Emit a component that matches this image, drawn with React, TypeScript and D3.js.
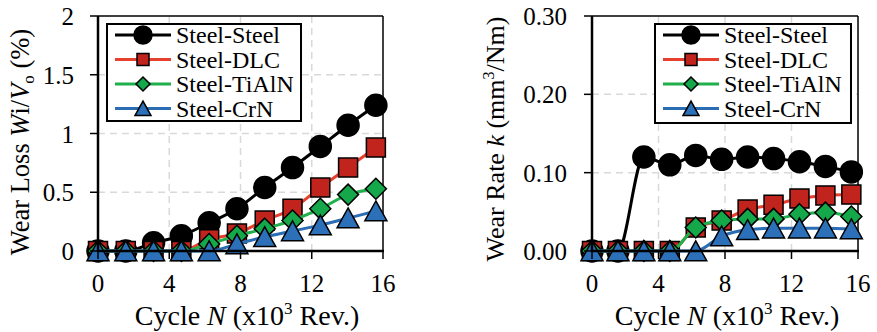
import { useEffect, useRef } from 'react';
import * as d3 from 'd3';

// cycle positions (x10^3 rev.)
const cycleN = [0, 1.56, 3.12, 4.68, 6.24, 7.8, 9.36, 10.92, 12.48, 14.04, 15.6];
const seriesNames = ['Steel-Steel', 'Steel-DLC', 'Steel-TiAlN', 'Steel-CrN'];

// wear loss Wi/Vo (%)
const lossSteel = [0, 0, 0.07, 0.13, 0.24, 0.36, 0.54, 0.71, 0.89, 1.07, 1.24];
const lossDLC = [0, 0, 0, 0, 0.1, 0.15, 0.26, 0.36, 0.54, 0.71, 0.88];
const lossTiAlN = [0, 0, 0, 0, 0.06, 0.13, 0.19, 0.26, 0.36, 0.48, 0.53];
const lossCrN = [0, 0, 0, 0, 0, 0.06, 0.12, 0.17, 0.22, 0.28, 0.34];

// wear rate k (mm3/Nm)
const rateSteel = [0, 0, 0.12, 0.11, 0.122, 0.117, 0.12, 0.118, 0.114, 0.108, 0.101];
const rateDLC = [0, 0, 0, 0, 0.03, 0.039, 0.053, 0.059, 0.067, 0.071, 0.072];
const rateTiAlN = [0, 0, 0, 0, 0.03, 0.039, 0.041, 0.041, 0.047, 0.049, 0.044];
const rateCrN = [0, 0, 0, 0, 0, 0.019, 0.027, 0.029, 0.029, 0.029, 0.028];

const xTicks = [0, 4, 8, 12, 16];
const lossTicks = [0, 0.5, 1, 1.5, 2];
const rateTicks = [0, 0.1, 0.2, 0.3];

const lineColors = ['#000000', '#e8402f', '#1fb04c', '#2a6db5'];
const markerFills = ['#000000', '#c0241c', '#14a84a', '#2c70b9'];
const shapes = ['circle', 'square', 'diamond', 'triangle'];
const dataSize = [11, 9.5, 10.5, 11];
const legendSize = [9, 6, 7, 8];

const FONT = '"Liberation Serif", "Times New Roman", serif';

const markerPath = (shape: string, s: number) => {
  if (shape === 'circle') return `M${-s},0a${s},${s} 0 1,0 ${2 * s},0a${s},${s} 0 1,0 ${-2 * s},0Z`;
  if (shape === 'square') return `M${-s},${-s}h${2 * s}v${2 * s}h${-2 * s}Z`;
  if (shape === 'diamond') return `M0,${-s}L${s},0L0,${s}L${-s},0Z`;
  return `M0,${-s * 0.92}L${s},${s * 0.88}L${-s},${s * 0.88}Z`;
};

const drawPanel = (svg: any, cfg: any) => {
  const { left, right, top, bottom } = cfg;
  const x = d3.scaleLinear().domain([0, 16]).range([left, right]);
  const y = d3.scaleLinear().domain(cfg.yDomain).range([bottom, top]);
  const g = svg.append('g');

  // gridlines
  xTicks.slice(1, -1).forEach(t => {
    g.append('line')
      .attr('x1', x(t)).attr('x2', x(t)).attr('y1', top).attr('y2', bottom)
      .attr('stroke', '#d9d9d9').attr('stroke-width', 1.5).attr('stroke-dasharray', '7,5');
  });
  cfg.yTicks.slice(1, -1).forEach((t: number) => {
    g.append('line')
      .attr('x1', left).attr('x2', right).attr('y1', y(t)).attr('y2', y(t))
      .attr('stroke', '#d9d9d9').attr('stroke-width', 1.5).attr('stroke-dasharray', '7,5');
  });

  // frame (top / right thin)
  g.append('line').attr('x1', left).attr('x2', right).attr('y1', top).attr('y2', top)
    .attr('stroke', '#000').attr('stroke-width', 1.5);
  g.append('line').attr('x1', right).attr('x2', right).attr('y1', top).attr('y2', bottom)
    .attr('stroke', '#000').attr('stroke-width', 1.5);

  // series
  const line = d3.line<number>()
    .x((_d, i) => x(cycleN[i]))
    .y(d => y(d))
    .curve(d3.curveMonotoneX);

  cfg.series.forEach((vals: number[], si: number) => {
    g.append('path')
      .attr('d', line(vals))
      .attr('fill', 'none')
      .attr('stroke', lineColors[si])
      .attr('stroke-width', 3);
    vals.forEach((v, i) => {
      g.append('path')
        .attr('transform', `translate(${x(cycleN[i])},${y(v)})`)
        .attr('d', markerPath(shapes[si], dataSize[si]))
        .attr('fill', markerFills[si])
        .attr('stroke', '#000')
        .attr('stroke-width', 1.5);
    });
  });

  // axes
  g.append('line').attr('x1', left).attr('x2', left).attr('y1', top).attr('y2', bottom + 1)
    .attr('stroke', '#000').attr('stroke-width', 2.5);
  g.append('line').attr('x1', left - 1).attr('x2', right + 1).attr('y1', bottom).attr('y2', bottom)
    .attr('stroke', '#000').attr('stroke-width', 2.5);

  cfg.yTicks.forEach((t: number) => {
    g.append('line').attr('x1', left - 8).attr('x2', left).attr('y1', y(t)).attr('y2', y(t))
      .attr('stroke', '#000').attr('stroke-width', 1.5);
    g.append('text')
      .attr('x', cfg.yLabelX).attr('y', y(t) + 9)
      .attr('text-anchor', 'end')
      .style('font-family', FONT).style('font-size', '25px').style('fill', '#000')
      .text(cfg.yFormat(t));
  });
  xTicks.forEach(t => {
    g.append('line').attr('x1', x(t)).attr('x2', x(t)).attr('y1', bottom).attr('y2', bottom + 8)
      .attr('stroke', '#000').attr('stroke-width', 1.5);
    g.append('text')
      .attr('x', x(t)).attr('y', 292)
      .attr('text-anchor', 'middle')
      .style('font-family', FONT).style('font-size', '25px').style('fill', '#000')
      .text(t);
  });

  // x title
  const xt = g.append('text')
    .attr('x', cfg.xTitleX).attr('y', 325)
    .attr('text-anchor', 'middle')
    .style('font-family', FONT).style('font-size', '28px').style('fill', '#000');
  xt.append('tspan').text('Cycle ');
  xt.append('tspan').style('font-style', 'italic').text('N');
  xt.append('tspan').text(' (x10');
  xt.append('tspan').attr('dy', -11).style('font-size', '17px').text('3');
  xt.append('tspan').attr('dy', 11).text(' Rev.)');

  // y title
  const yt = g.append('text')
    .attr('transform', `translate(${cfg.yTitleX},${cfg.yTitleY}) rotate(-90)`)
    .attr('text-anchor', 'middle')
    .style('font-family', FONT).style('font-size', cfg.yTitleSize).style('fill', '#000');
  cfg.yTitle(yt);

  // legend
  const lg = g.append('g');
  lg.append('rect')
    .attr('x', cfg.legend.x).attr('y', cfg.legend.y)
    .attr('width', cfg.legend.w).attr('height', cfg.legend.h)
    .attr('fill', '#fff').attr('stroke', '#000').attr('stroke-width', 2);
  seriesNames.forEach((name, si) => {
    const cy = cfg.legend.y + 11 + si * 24.5;
    const lx = cfg.legend.x + 8;
    lg.append('line')
      .attr('x1', lx).attr('x2', lx + 56).attr('y1', cy).attr('y2', cy)
      .attr('stroke', lineColors[si]).attr('stroke-width', 3);
    lg.append('path')
      .attr('transform', `translate(${lx + 28},${cy})`)
      .attr('d', markerPath(shapes[si], legendSize[si]))
      .attr('fill', markerFills[si]).attr('stroke', '#000').attr('stroke-width', 1.5);
    lg.append('text')
      .attr('x', lx + 61).attr('y', cy + 8)
      .style('font-family', FONT).style('font-size', '24px').style('fill', '#000')
      .text(name);
  });
};

const App = () => {
  const ref = useRef<SVGSVGElement>(null);

  useEffect(() => {
    if (!ref.current) return;
    const svg = d3.select(ref.current);
    svg.selectAll('*').remove();

    drawPanel(svg, {
      left: 98, right: 383, top: 16, bottom: 251,
      yDomain: [0, 2], yTicks: lossTicks, yFormat: (d: number) => String(d),
      yLabelX: 74,
      series: [lossSteel, lossDLC, lossTiAlN, lossCrN],
      xTitleX: 247,
      yTitleX: 29, yTitleY: 142, yTitleSize: '26.5px',
      yTitle: (t: any) => {
        t.append('tspan').text('Wear Loss ');
        t.append('tspan').style('font-style', 'italic').text('W');
        t.append('tspan').text('i/');
        t.append('tspan').style('font-style', 'italic').text('V');
        t.append('tspan').attr('dy', 5).style('font-size', '17px').text('o');
        t.append('tspan').attr('dy', -5).text(' (%)');
      },
      legend: { x: 107, y: 24, w: 194, h: 97 },
    });

    drawPanel(svg, {
      left: 592, right: 858, top: 16, bottom: 251,
      yDomain: [0, 0.3], yTicks: rateTicks, yFormat: d3.format('.2f'),
      yLabelX: 567,
      series: [rateSteel, rateDLC, rateTiAlN, rateCrN],
      xTitleX: 727,
      yTitleX: 504, yTitleY: 139, yTitleSize: '26px',
      yTitle: (t: any) => {
        t.append('tspan').text('Wear Rate ');
        t.append('tspan').style('font-style', 'italic').text('k');
        t.append('tspan').text(' (mm');
        t.append('tspan').attr('dy', -10).style('font-size', '16px').text('3');
        t.append('tspan').attr('dy', 10).text('/Nm)');
      },
      legend: { x: 655, y: 24, w: 196, h: 99 },
    });
  }, []);

  return (
    <svg
      ref={ref}
      width={877}
      height={332}
      style={{ position: 'absolute', left: 0, top: 0, background: '#fff' }}
    />
  );
};

export default App;
